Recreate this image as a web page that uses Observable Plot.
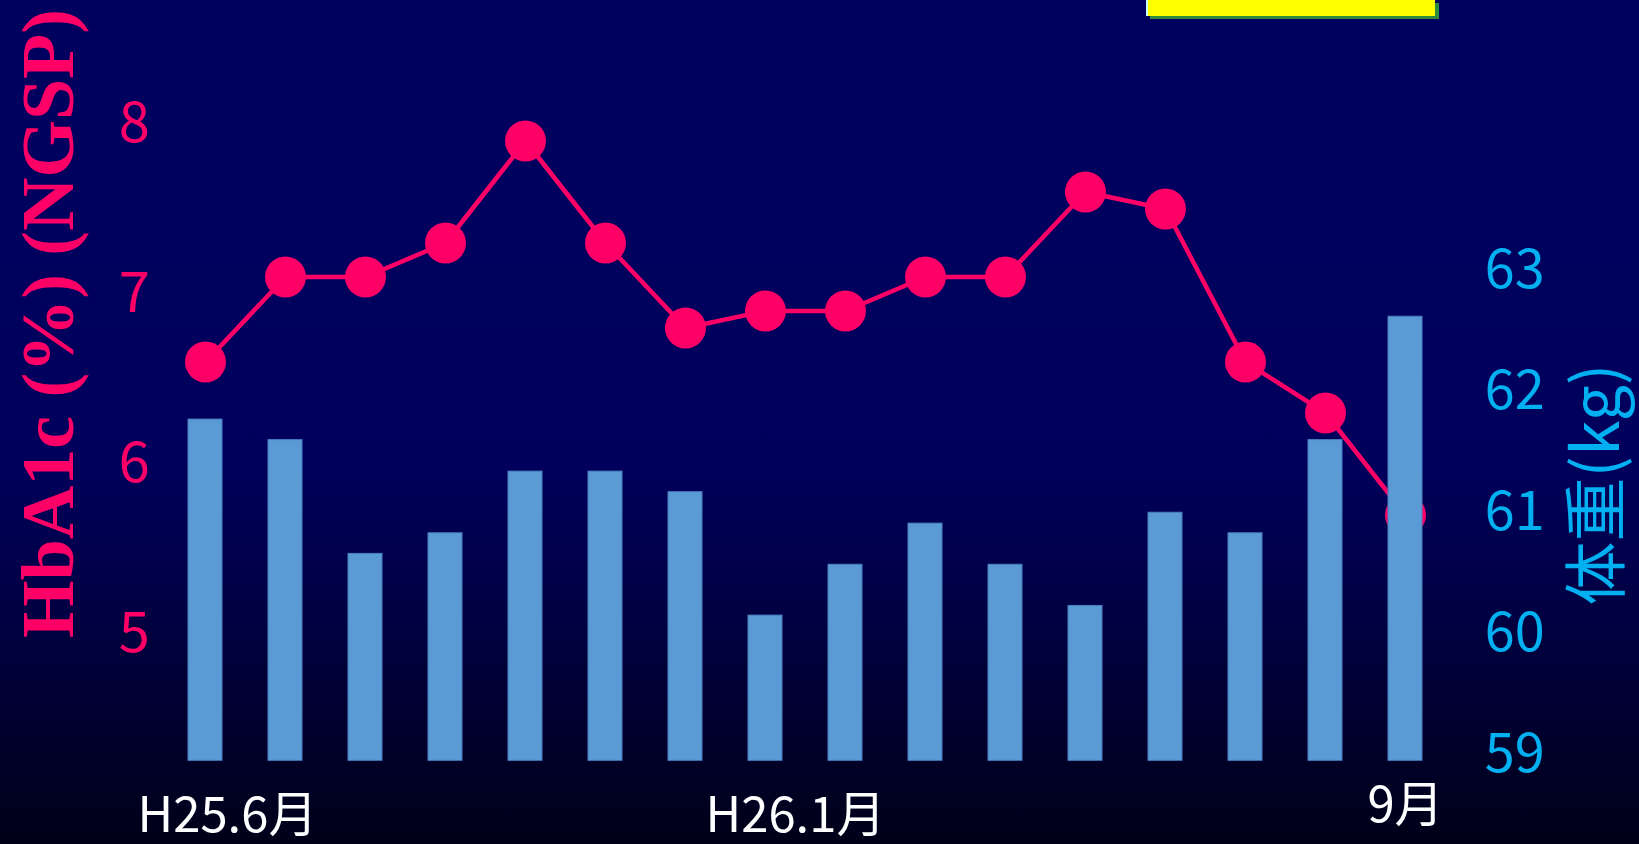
<!DOCTYPE html>
<html>
<head>
<meta charset="utf-8">
<script src="https://cdn.jsdelivr.net/npm/d3@7"></script>
<script src="https://cdn.jsdelivr.net/npm/@observablehq/plot@0.6"></script>
<style>
html, body { margin: 0; padding: 0; overflow: hidden; }
body {
  width: 1639px; height: 844px;
  background: linear-gradient(to bottom, #00005f 0%, #00005c 55%, #000035 82%, #000018 100%);
}
#wrap { position: relative; width: 1639px; height: 844px; }
#wrap svg { position: absolute; left: 0; top: 0; }
#ybox {
  position: absolute; left: 1146px; top: 0; width: 287px; height: 16px;
  background: #ffff00; box-shadow: 4px 3px 0 #2e8b3e; border-left: 2px solid #ccffff;
}
</style>
</head>
<body>
<div id="wrap"><div id="ybox"></div></div>
<script>
// ---- data ----
const months = ["H25.6","H25.7","H25.8","H25.9","H25.10","H25.11","H25.12",
                "H26.1","H26.2","H26.3","H26.4","H26.5","H26.6","H26.7","H26.8","H26.9"];
const hba1c  = [6.6, 7.1, 7.1, 7.3, 7.9, 7.3, 6.8, 6.9, 6.9, 7.1, 7.1, 7.6, 7.5, 6.6, 6.3, 5.7];
const weight = [61.82, 61.65, 60.71, 60.88, 61.39, 61.39, 61.22, 60.20,
                60.62, 60.96, 60.62, 60.28, 61.05, 60.88, 61.65, 62.67];
const hbTicks = [5, 6, 7, 8];
const weightTicks = [59, 60, 61, 62, 63];
const weightBase = 59;
const xLabelMonths = ["H25.6", "H26.1", "H26.9"];
const xLabelText = ["H25.6月", "H26.1月", "9月"];
const leftTitle = "HbA1c (%) (NGSP)";
const rightTitle = "体重(kg)";

// ---- layout ----
const W = 1639, H = 844;
const PINK = "#ff0066", BLUE = "#5b9bd5", CYAN = "#00b0f0";
const FONT = "'Noto Sans CJK JP', 'Noto Sans', sans-serif";
const xLabelDx = [22, 30, 0];
const xLabelDy = [-28, -28, -38];

const rows = months.map((m, i) => ({month: m, hb: hba1c[i], w: weight[i]}));

const common = {
  width: W, height: H,
  marginLeft: 184.3, marginRight: 212.8, marginTop: 0, marginBottom: 0,
  style: {background: "transparent", overflow: "visible", fontFamily: FONT}
};
const xScale = {type: "band", domain: months, paddingInner: 0.573, paddingOuter: 0, align: 0.5, axis: null};

const plotLine = Plot.plot({
  ...common,
  x: xScale,
  y: {domain: [5, 8], range: [633.5, 123.5]},
  marks: [
    Plot.axisY(hbTicks, {anchor: "left", tickSize: 0, tickPadding: 35, fontSize: 56,
      fill: PINK, fontFamily: FONT, label: null, tickFormat: d => String(d)}),
    Plot.line(rows, {x: "month", y: "hb", stroke: PINK, strokeWidth: 4.5}),
    Plot.dot(rows, {x: "month", y: "hb", r: 20.5, fill: PINK}),
    Plot.text([leftTitle], {text: d => d, frameAnchor: "left", textAnchor: "middle", rotate: -90,
      dx: -135.3, dy: -99, fontSize: 74, fontWeight: "bold",
      fontFamily: "'Liberation Serif', 'Times New Roman', serif", fill: PINK}),
    ...xLabelText.map((t, i) => Plot.text([xLabelMonths[i]], {
      x: d => d, text: () => t, frameAnchor: "bottom", lineAnchor: "middle",
      dx: xLabelDx[i], dy: xLabelDy[i], fontSize: 49, fill: "white", fontFamily: FONT
    }))
  ]
});

const plotBar = Plot.plot({
  ...common,
  x: xScale,
  y: {domain: [59, 63], range: [760.3, 276.3]},
  marks: [
    Plot.barY(rows, {x: "month", y1: weightBase, y2: "w", fill: BLUE, stroke: "#4a7fbf", strokeWidth: 1}),
    Plot.axisY(weightTicks, {anchor: "right", tickSize: 0, tickPadding: 58, fontSize: 54,
      fill: CYAN, fontFamily: FONT, label: null, dy: -6, tickFormat: d => String(d)}),
    Plot.text([rightTitle], {text: d => d, frameAnchor: "right", textAnchor: "middle", rotate: -90,
      dx: 1598 - 1426.2, dy: 484 - 422, fontSize: 64, fill: CYAN, fontFamily: FONT})
  ]
});

const wrap = document.getElementById("wrap");
wrap.appendChild(plotLine);
wrap.appendChild(plotBar);
</script>
</body>
</html>
